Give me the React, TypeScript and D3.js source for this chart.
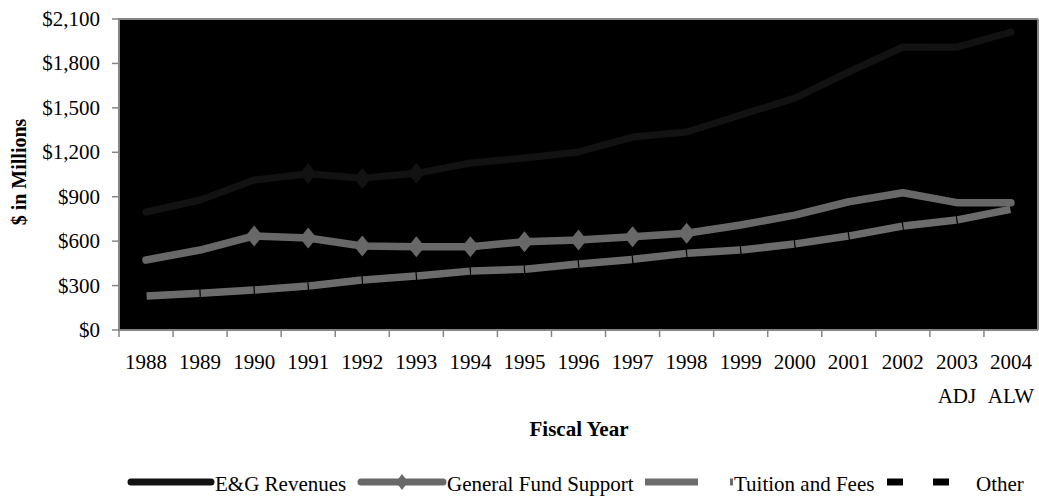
import React from "react";
import * as d3 from "d3";

const years = ["1988","1989","1990","1991","1992","1993","1994","1995","1996","1997","1998","1999","2000","2001","2002","2003","2004"];
const yearSubLabels = ["","","","","","","","","","","","","","","","ADJ","ALW"];
const egRevenues = [797, 878, 1013, 1055, 1024, 1058, 1128, 1161, 1202, 1303, 1337, 1452, 1566, 1742, 1911, 1910, 2012];
const generalFund = [473, 540, 635, 621, 567, 562, 562, 596, 608, 630, 653, 709, 776, 866, 927, 860, 860];
const tuitionFees = [230, 248, 270, 297, 338, 365, 398, 410, 446, 477, 518, 540, 581, 635, 702, 743, 815];
const egMarkerYears = ["1991","1992","1993"];
const gfMarkerYears = ["1990","1991","1992","1993","1994","1995","1996","1997","1998"];
const yTicks = [0, 300, 600, 900, 1200, 1500, 1800, 2100];

const W = 1039, H = 497;
const L = 119, R = 1038, T = 19, B = 330;
const FONT = "'Liberation Serif', 'Times New Roman', serif";

const EG_COLOR = "#121212";
const GF_COLOR = "#686868";
const TU_COLOR = "#6c6c6c";
const AXIS = "#858585";

export default function App() {
  const x = d3.scaleBand<string>().domain(years).range([L, R]).paddingInner(0).paddingOuter(0);
  const cx = (yr: string) => (x(yr) as number) + x.bandwidth() / 2;
  const y = d3.scaleLinear().domain([0, 2100]).range([B, T]);

  const line = d3.line<number>().x((_, i) => cx(years[i])).y((v) => y(v));

  const diamond = (px: number, py: number, hw: number, hh: number) =>
    `M${px},${py - hh}L${px + hw},${py}L${px},${py + hh}L${px - hw},${py}Z`;

  const tuSegs = tuitionFees.slice(0, -1).map((v, i) => {
    const x1 = cx(years[i]), y1 = y(v);
    const x2 = cx(years[i + 1]), y2 = y(tuitionFees[i + 1]);
    const dx = x2 - x1, dy = y2 - y1, len = Math.hypot(dx, dy);
    const g = 0.6;
    return { x1: x1 + (dx / len) * g, y1: y1 + (dy / len) * g, x2: x2 - (dx / len) * g, y2: y2 - (dy / len) * g };
  });

  const bounds = years.map((yr) => x(yr) as number);
  const LY = 482, LT = 491;

  return (
    <svg width={W} height={H} style={{ position: "absolute", left: 0, top: 0, background: "#fff" }} fontFamily={FONT}>
      <rect x={L} y={T} width={R - L} height={B - T} fill="#000" />
      <line x1={L} y1={T} x2={R} y2={T} stroke={AXIS} strokeWidth={2} />
      <line x1={R} y1={T} x2={R} y2={B} stroke={AXIS} strokeWidth={2} />
      <line x1={L} y1={T - 1} x2={L} y2={B + 1} stroke={AXIS} strokeWidth={2} />
      <line x1={L} y1={B} x2={R} y2={B} stroke={AXIS} strokeWidth={2} />
      {yTicks.map((t) => (
        <g key={t}>
          <line x1={L - 7} x2={L} y1={y(t)} y2={y(t)} stroke={AXIS} strokeWidth={1.5} />
          <text x={100} y={y(t) + 7} textAnchor="end" fontSize={21} fill="#000">
            {d3.format("$,")(t)}
          </text>
        </g>
      ))}
      {bounds.map((bx, i) => (
        <line key={i} x1={bx} x2={bx} y1={B} y2={B + 7} stroke={AXIS} strokeWidth={1.5} />
      ))}
      {years.map((yr, i) => (
        <g key={yr}>
          <text x={cx(yr)} y={369} textAnchor="middle" fontSize={21} fill="#000">{yr}</text>
          {yearSubLabels[i] && (
            <text x={cx(yr)} y={403} textAnchor="middle" fontSize={21} fill="#000">{yearSubLabels[i]}</text>
          )}
        </g>
      ))}

      <path d={line(egRevenues) || ""} fill="none" stroke={EG_COLOR} strokeWidth={7} strokeLinecap="round" strokeLinejoin="round" />
      {egMarkerYears.map((yr) => {
        const i = years.indexOf(yr);
        return <path key={yr} d={diamond(cx(yr), y(egRevenues[i]), 8.5, 10.5)} fill={EG_COLOR} />;
      })}
      <path d={line(generalFund) || ""} fill="none" stroke={GF_COLOR} strokeWidth={7.5} strokeLinecap="round" strokeLinejoin="round" />
      {gfMarkerYears.map((yr) => {
        const i = years.indexOf(yr);
        return <path key={yr} d={diamond(cx(yr), y(generalFund[i]), 8.5, 10.5)} fill={GF_COLOR} />;
      })}
      {tuSegs.map((s, i) => (
        <line key={i} x1={s.x1} y1={s.y1} x2={s.x2} y2={s.y2} stroke={TU_COLOR} strokeWidth={7.5} strokeLinecap="butt" />
      ))}

      <text x={579} y={436} textAnchor="middle" fontSize={21} fontWeight="bold" fill="#000">Fiscal Year</text>
      <text transform="translate(26,172) rotate(-90)" textAnchor="middle" fontSize={20} fontWeight="bold" fill="#000">$ in Millions</text>

      <line x1={131} x2={211} y1={LY} y2={LY} stroke={EG_COLOR} strokeWidth={7} strokeLinecap="round" />
      <text x={215} y={LT} fontSize={21} fill="#000">E&amp;G Revenues</text>
      <line x1={361} x2={443} y1={LY} y2={LY} stroke={GF_COLOR} strokeWidth={7} strokeLinecap="round" />
      <path d={diamond(402, LY, 6, 8)} fill={GF_COLOR} />
      <text x={447} y={LT} fontSize={21} fill="#000">General Fund Support</text>
      <line x1={645} x2={698} y1={LY} y2={LY} stroke={TU_COLOR} strokeWidth={7} />
      <line x1={730} x2={733} y1={LY} y2={LY} stroke={TU_COLOR} strokeWidth={7} />
      <text x={734} y={LT} fontSize={21} fill="#000">Tuition and Fees</text>
      <line x1={887} x2={903} y1={LY} y2={LY} stroke="#000" strokeWidth={7} />
      <line x1={933} x2={949} y1={LY} y2={LY} stroke="#000" strokeWidth={7} />
      <text x={976} y={LT} fontSize={21} fill="#000">Other</text>
    </svg>
  );
}
